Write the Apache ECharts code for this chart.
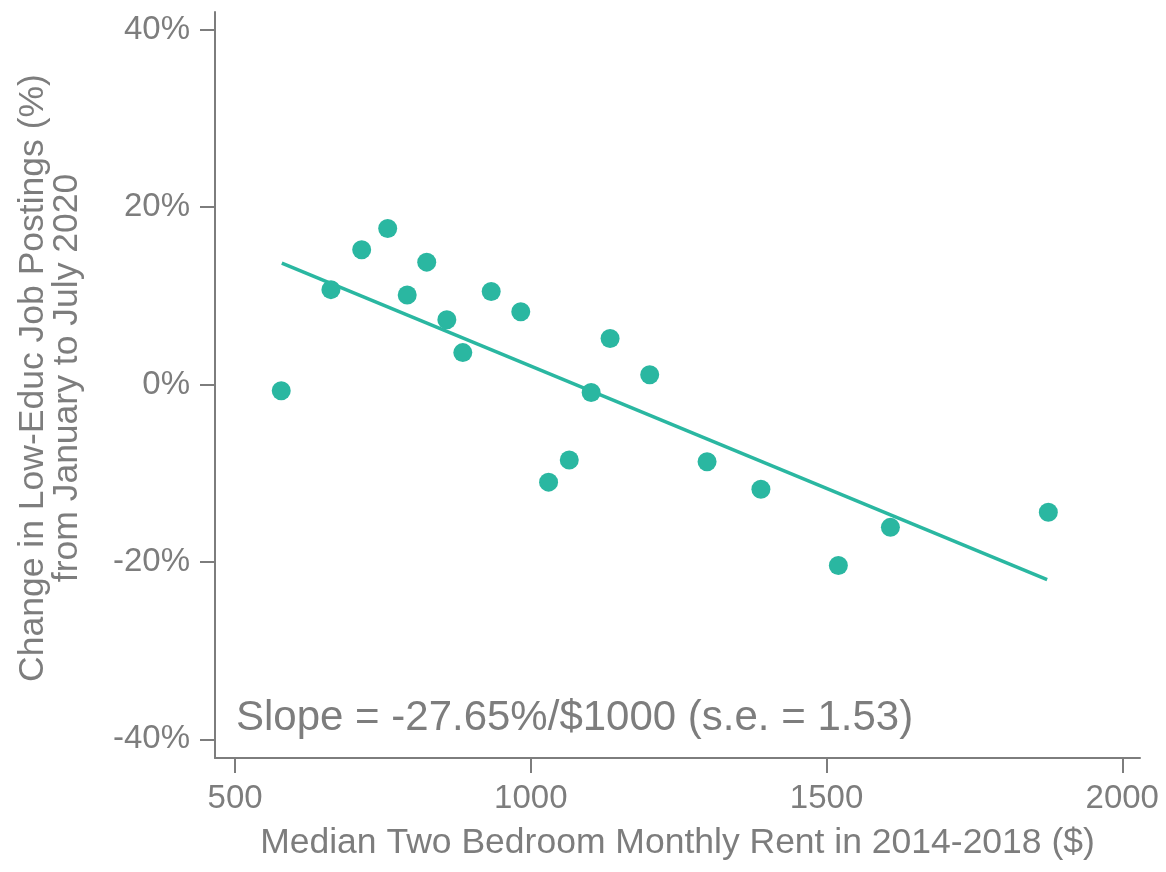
<!DOCTYPE html>
<html>
<head>
<meta charset="utf-8">
<script src="https://cdn.jsdelivr.net/npm/echarts@6/dist/echarts.min.js"></script>
<style>
html,body{margin:0;padding:0;background:#fff;}
#chart{width:1166px;height:872px;}
</style>
</head>
<body>
<div id="chart"></div>
<script>
// Data
var rentValues = [578, 662, 714, 758, 791, 824, 858, 885, 933, 983, 1030, 1065, 1102, 1134, 1201, 1298, 1389, 1520, 1608, 1875];
var changeValues = [-0.7, 10.7, 15.2, 17.6, 10.1, 13.8, 7.3, 3.6, 10.5, 8.2, -11.0, -8.5, -0.9, 5.2, 1.1, -8.7, -11.8, -20.4, -16.1, -14.4];
var fitLineX = [579, 1873];
var fitLineY = [13.7, -22.0];
var xTickValues = [500, 1000, 1500, 2000];
var yTickValues = [-40, -20, 0, 20, 40];
var slopeText = 'Slope = -27.65%/$1000 (s.e. = 1.53)';
var xTitle = 'Median Two Bedroom Monthly Rent in 2014-2018 ($)';
var yTitle = 'Change in Low-Educ Job Postings (%)\nfrom January to July 2020';

var scatterData = rentValues.map(function (x, i) { return [x, changeValues[i]]; });
var lineData = fitLineX.map(function (x, i) { return [x, fitLineY[i]]; });

var gray = '#7d7d7d';
var teal = '#2ab7a1';
var fontFam = 'Liberation Sans, Arial, sans-serif';

var chart = echarts.init(document.getElementById('chart'), null, {renderer: 'canvas'});
chart.setOption({
  animation: false,
  backgroundColor: '#fff',
  grid: {left: 215, right: 26, top: 12, bottom: 114, containLabel: false},
  xAxis: {
    type: 'value',
    min: 466, max: 2030,
    name: xTitle,
    nameLocation: 'middle',
    nameGap: 67,
    nameTextStyle: {fontSize: 35.5, color: gray, fontFamily: fontFam},
    axisLine: {show: true, onZero: false, lineStyle: {color: gray, width: 2}},
    axisTick: {show: true, length: 15, lineStyle: {color: gray, width: 2}, customValues: xTickValues},
    axisLabel: {color: gray, fontSize: 33, fontFamily: fontFam, margin: 24, customValues: xTickValues,
      formatter: function (v) { return String(v); }},
    splitLine: {show: false}
  },
  yAxis: {
    type: 'value',
    min: -42.1, max: 42.0,
    name: yTitle,
    nameLocation: 'middle',
    nameGap: 131,
    nameTextStyle: {fontSize: 35.5, lineHeight: 34, color: gray, fontFamily: fontFam, align: 'center',
      padding: [0, 0, 0, 14]},
    axisLine: {show: true, onZero: false, lineStyle: {color: gray, width: 2}},
    axisTick: {show: true, length: 15, lineStyle: {color: gray, width: 2}, customValues: yTickValues},
    axisLabel: {color: gray, fontSize: 33, fontFamily: fontFam, margin: 25, customValues: yTickValues,
      formatter: function (v) { return v + '%'; }},
    splitLine: {show: false}
  },
  graphic: [{
    type: 'text',
    left: 236,
    top: 697,
    style: {text: slopeText, fontSize: 42, fill: gray, fontFamily: fontFam}
  }],
  series: [
    {
      type: 'line',
      data: lineData,
      symbol: 'none',
      lineStyle: {color: teal, width: 3.5},
      z: 2
    },
    {
      type: 'scatter',
      data: scatterData,
      symbol: 'circle',
      symbolSize: 19,
      itemStyle: {color: teal, opacity: 1},
      z: 3
    }
  ]
});
</script>
</body>
</html>
